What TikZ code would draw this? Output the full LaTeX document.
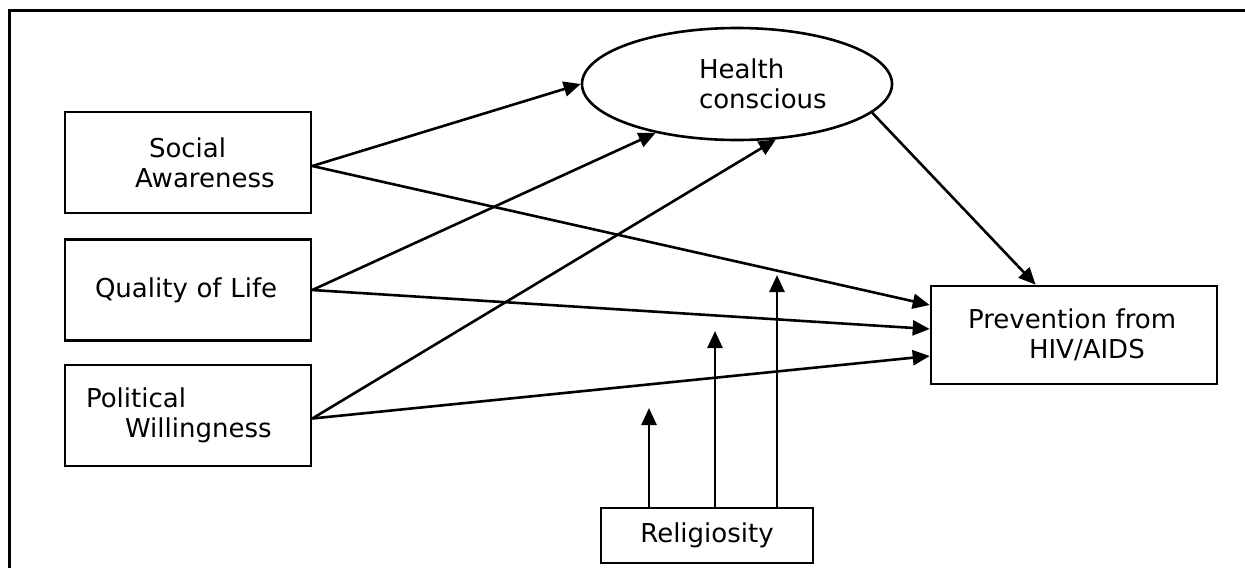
\documentclass[tikz,border=0pt]{standalone}
\usepackage{fontspec}
\setmainfont{DejaVu Sans}
\usepackage{tikz}
\usetikzlibrary{arrows.meta,shapes.geometric,calc}
\tikzstyle{box} = [draw, line width=1.3pt, inner xsep=0pt, text width=123pt, align=left, minimum width=123pt, minimum height=50.5pt]
\tikzstyle{latent} = [draw, ellipse, line width=1.3pt, text width=100pt, align=left, minimum width=155pt, minimum height=56pt, inner sep=0pt]
\tikzstyle{arr} = [line width=1.3pt, -{Triangle[length=8.5pt,width=7.5pt]}]

\begin{document}
\begin{tikzpicture}[x=0.5pt,y=-0.5pt,font=\fontsize{13}{15}\selectfont]
      \useasboundingbox   (0,0) rectangle (1245,568);
      \draw[line width=1.5pt] (9,568) -- (9,10) -- (1245,10);
      \node[box] (social)    at (188,162.5) {\hspace*{42pt}Social\\\hspace*{35pt}Awareness};
      \node[box] (quality)   at (188,290  ) {\hspace*{15pt}Quality of Life};
      \node[box] (political) at (188,415.5) {\hspace*{10.5pt}Political\\\hspace*{30pt}Willingness};
      \node[latent] (health) at (737,84   ) {\hspace*{31pt}Health\\\hspace*{31pt}conscious};
      \node[box, text width=143pt, minimum width=143pt, minimum height=49pt]
                 (prev)      at (1074,335 ) {\hspace*{18.5pt}Prevention from\\\hspace*{49pt}HIV/AIDS};
      \node[draw, line width=1.3pt, minimum width=106pt, minimum height=27.5pt]
                 (relig)     at (707,535.5) {Religiosity};
      \coordinate (mod1)     at (649,408);
      \coordinate (mod2)     at (715,331);
      \coordinate (mod3)     at (777,275);
      \draw[arr] ($(social.east)+(0,3.5)$)  -- (health.west);
      \draw[arr] ($(social.east)+(0,3.5)$)  -- ($(prev.west)+(0,-30)$);
      \draw[arr] (quality.east)             -- (health.211);
      \draw[arr] (quality.east)             -- ($(prev.west)+(0,-6)$);
      \draw[arr] ($(political.east)+(0,3)$) -- (health.-55);
      \draw[arr] ($(political.east)+(0,3)$) -- ($(prev.west)+(0,21)$);
      \draw[arr] (health.-12)     -- ($(prev.north west)!0.367!(prev.north east)$);
      \draw[arr] (relig.north -| mod1) -- (mod1);
      \draw[arr] (relig.north -| mod2) -- (mod2);
      \draw[arr] (relig.north -| mod3) -- (mod3);
    \end{tikzpicture}
\end{document}
